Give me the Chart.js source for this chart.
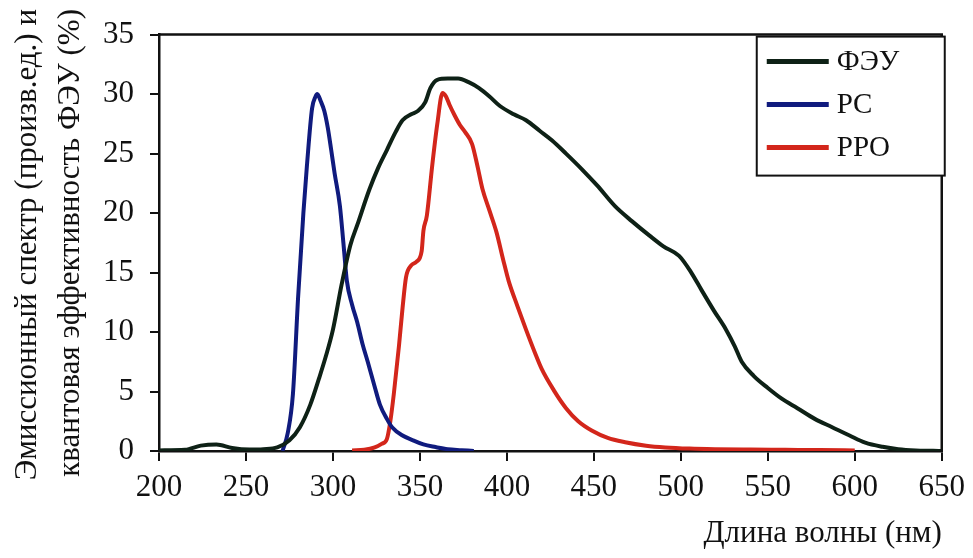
<!DOCTYPE html>
<html lang="ru">
<head>
<meta charset="utf-8">
<title>Emission spectra</title>
<script src="https://cdn.jsdelivr.net/npm/chart.js@4/dist/chart.umd.min.js"></script>
<style>
  html, body { margin: 0; padding: 0; background: #fff; }
  canvas { display: block; }
</style>
</head>
<body>
<canvas id="chart" width="973" height="558"></canvas>
<script>
// --- DATA ---
const seriesLabels = ['ФЭУ', 'PC', 'PPO'];

// PMT quantum efficiency
const pmtNm = [200, 215, 224, 233, 242, 252, 260, 268, 275, 281, 287, 292, 296, 300, 305, 310, 314, 321, 326, 331, 336, 340, 345, 349, 353, 356, 360, 366, 372, 378, 384, 390, 396, 404, 411, 419, 426, 434, 443, 452, 462, 472, 482, 490, 499, 506, 512, 519, 526, 531, 535, 542, 550, 558, 567, 577, 587, 597, 606, 616, 625, 635, 645, 650];
const pmtVal = [0.05, 0.1, 0.45, 0.55, 0.25, 0.12, 0.15, 0.3, 0.9, 2.0, 3.9, 6.1, 8.0, 10.2, 14.0, 17.3, 19.0, 22.0, 23.8, 25.3, 26.8, 27.8, 28.3, 28.6, 29.3, 30.5, 31.2, 31.3, 31.3, 31.0, 30.5, 29.8, 29.0, 28.3, 27.8, 26.9, 26.1, 25.0, 23.7, 22.3, 20.6, 19.3, 18.1, 17.2, 16.4, 15.0, 13.5, 11.8, 10.2, 8.8, 7.5, 6.3, 5.3, 4.4, 3.6, 2.7, 2.0, 1.3, 0.7, 0.35, 0.15, 0.05, 0.02, 0];

// PC emission
const pcNm = [271, 274, 277, 280, 283, 285, 288, 290, 291, 293, 295, 297, 299, 301, 304, 306, 308, 311, 314, 317, 320, 324, 327, 331, 334, 340, 346, 352, 359, 366, 374, 381];
const pcVal = [0, 1.5, 4.8, 13.0, 20.0, 23.9, 28.8, 29.8, 30.0, 29.4, 28.6, 27.2, 25.3, 23.3, 20.6, 17.5, 14.3, 12.3, 10.8, 9.0, 7.5, 5.4, 3.9, 2.7, 2.0, 1.3, 0.9, 0.55, 0.33, 0.15, 0.07, 0];

// PPO emission
const ppoNm = [311, 318, 324, 328, 331, 333, 335, 338, 340, 342, 345, 348, 351, 352, 354, 357, 360, 363, 365, 367, 370, 373, 376, 380, 383, 386, 390, 394, 398, 401, 406, 411, 416, 420, 427, 434, 441, 449, 458, 468, 480, 491, 505, 520, 540, 560, 580, 600];
const ppoVal = [0.05, 0.1, 0.3, 0.6, 1.0, 2.5, 4.8, 8.9, 12.0, 14.6, 15.6, 15.9, 16.8, 18.5, 19.8, 23.9, 27.5, 30.1, 29.8, 29.1, 28.2, 27.4, 26.8, 25.8, 24.0, 22.0, 20.2, 18.4, 16.0, 14.3, 12.2, 10.2, 8.3, 6.9, 5.1, 3.6, 2.5, 1.7, 1.1, 0.74, 0.45, 0.3, 0.2, 0.15, 0.12, 0.1, 0.08, 0.05];

const xTicks = [200, 250, 300, 350, 400, 450, 500, 550, 600, 650];
const yTicks = [0, 5, 10, 15, 20, 25, 30, 35];

const xTitle = 'Длина волны (нм)';
const yTitleLines = ['Эмиссионный спектр (произв.ед.) и', 'квантовая эффективность ФЭУ (%)'];

// --- helpers ---
const toPoints = (xs, ys) => xs.map((x, i) => ({ x: x, y: ys[i] }));

const SERIF = '"Liberation Serif", "DejaVu Serif", "Times New Roman", serif';
const INK = '#111';
Chart.defaults.font.family = SERIF;
Chart.defaults.color = INK;

// Closing frame (top + right edge)
const frame = {
  id: 'frame',
  afterDatasetsDraw(chart) {
    const { ctx, chartArea: a } = chart;
    ctx.save();
    ctx.strokeStyle = INK;
    ctx.lineWidth = 2.5;
    ctx.beginPath();
    ctx.moveTo(a.left, a.top);
    ctx.lineTo(a.right, a.top);
    ctx.lineTo(a.right, a.bottom);
    ctx.stroke();
    ctx.restore();
  }
};

// Boxed legend in the top right corner
const boxLegend = {
  id: 'boxLegend',
  afterDraw(chart) {
    const { ctx, chartArea: a } = chart;
    const w = 188, h = 139;
    const x0 = a.right - w + 3, y0 = a.top + 2;
    ctx.save();
    ctx.fillStyle = '#fff';
    ctx.fillRect(x0, y0, w, h);
    ctx.strokeStyle = INK;
    ctx.lineWidth = 2;
    ctx.strokeRect(x0, y0, w, h);
    ctx.font = '29px ' + SERIF;
    ctx.textBaseline = 'middle';
    ctx.textAlign = 'left';
    chart.data.datasets.forEach((ds, i) => {
      const y = y0 + 25 + i * 43;
      ctx.strokeStyle = ds.borderColor;
      ctx.lineWidth = 5;
      ctx.beginPath();
      ctx.moveTo(x0 + 10, y);
      ctx.lineTo(x0 + 72, y);
      ctx.stroke();
      ctx.fillStyle = INK;
      ctx.fillText(ds.label, x0 + 80, y + 1);
    });
    ctx.restore();
  }
};

// Two-line rotated y title, top-aligned like the original
const yTitle = {
  id: 'yTitle',
  afterDraw(chart) {
    const { ctx } = chart;
    const xs = [28, 71];
    ctx.save();
    ctx.font = '31px ' + SERIF;
    ctx.fillStyle = INK;
    ctx.textAlign = 'right';
    ctx.textBaseline = 'middle';
    yTitleLines.forEach((line, i) => {
      ctx.save();
      ctx.translate(xs[i], 9);
      ctx.rotate(-Math.PI / 2);
      ctx.fillText(line, 0, 0);
      ctx.restore();
    });
    ctx.restore();
  }
};

const lineStyle = { borderWidth: 4, pointRadius: 0, fill: false, cubicInterpolationMode: 'monotone' };

function drawChart() {
  new Chart(document.getElementById('chart'), {
    type: 'line',
    data: {
      datasets: [
        { label: seriesLabels[0], data: toPoints(pmtNm, pmtVal), borderColor: '#0e2116', ...lineStyle },
        { label: seriesLabels[1], data: toPoints(pcNm, pcVal), borderColor: '#101b7e', ...lineStyle },
        { label: seriesLabels[2], data: toPoints(ppoNm, ppoVal), borderColor: '#d3261b', ...lineStyle }
      ]
    },
    options: {
      responsive: false,
      animation: false,
      layout: { padding: { top: 25, right: 29, left: 0, bottom: 0 } },
      plugins: {
        legend: { display: false },
        tooltip: { enabled: false }
      },
      scales: {
        x: {
          type: 'linear',
          min: xTicks[0],
          max: xTicks[xTicks.length - 1],
          afterFit: s => { s.height = 107; },
          afterBuildTicks: s => { s.ticks = xTicks.map(v => ({ value: v })); },
          ticks: { font: { size: 31 }, color: INK, padding: 8, maxRotation: 0, autoSkip: false },
          grid: { drawOnChartArea: false, drawTicks: true, tickLength: 10, color: INK, lineWidth: 2 },
          border: { display: true, color: INK, width: 2.5 },
          title: { display: true, text: xTitle, align: 'end', font: { size: 31 }, color: INK, padding: { top: 0, bottom: 6 } }
        },
        y: {
          min: yTicks[0],
          max: yTicks[yTicks.length - 1],
          afterFit: s => { s.width = 159; },
          afterBuildTicks: s => { s.ticks = yTicks.map(v => ({ value: v })); },
          ticks: { font: { size: 31 }, color: INK, padding: 16 },
          grid: { drawOnChartArea: false, drawTicks: true, tickLength: 9, color: INK, lineWidth: 2 },
          border: { display: true, color: INK, width: 2.5 }
        }
      }
    },
    plugins: [frame, boxLegend, yTitle]
  });
}

// make sure the serif face is ready before the canvas paints text
Promise.all([
  document.fonts.load('31px "Liberation Serif"'),
  document.fonts.load('31px "DejaVu Serif"')
]).catch(() => {}).then(drawChart);
</script>
</body>
</html>
